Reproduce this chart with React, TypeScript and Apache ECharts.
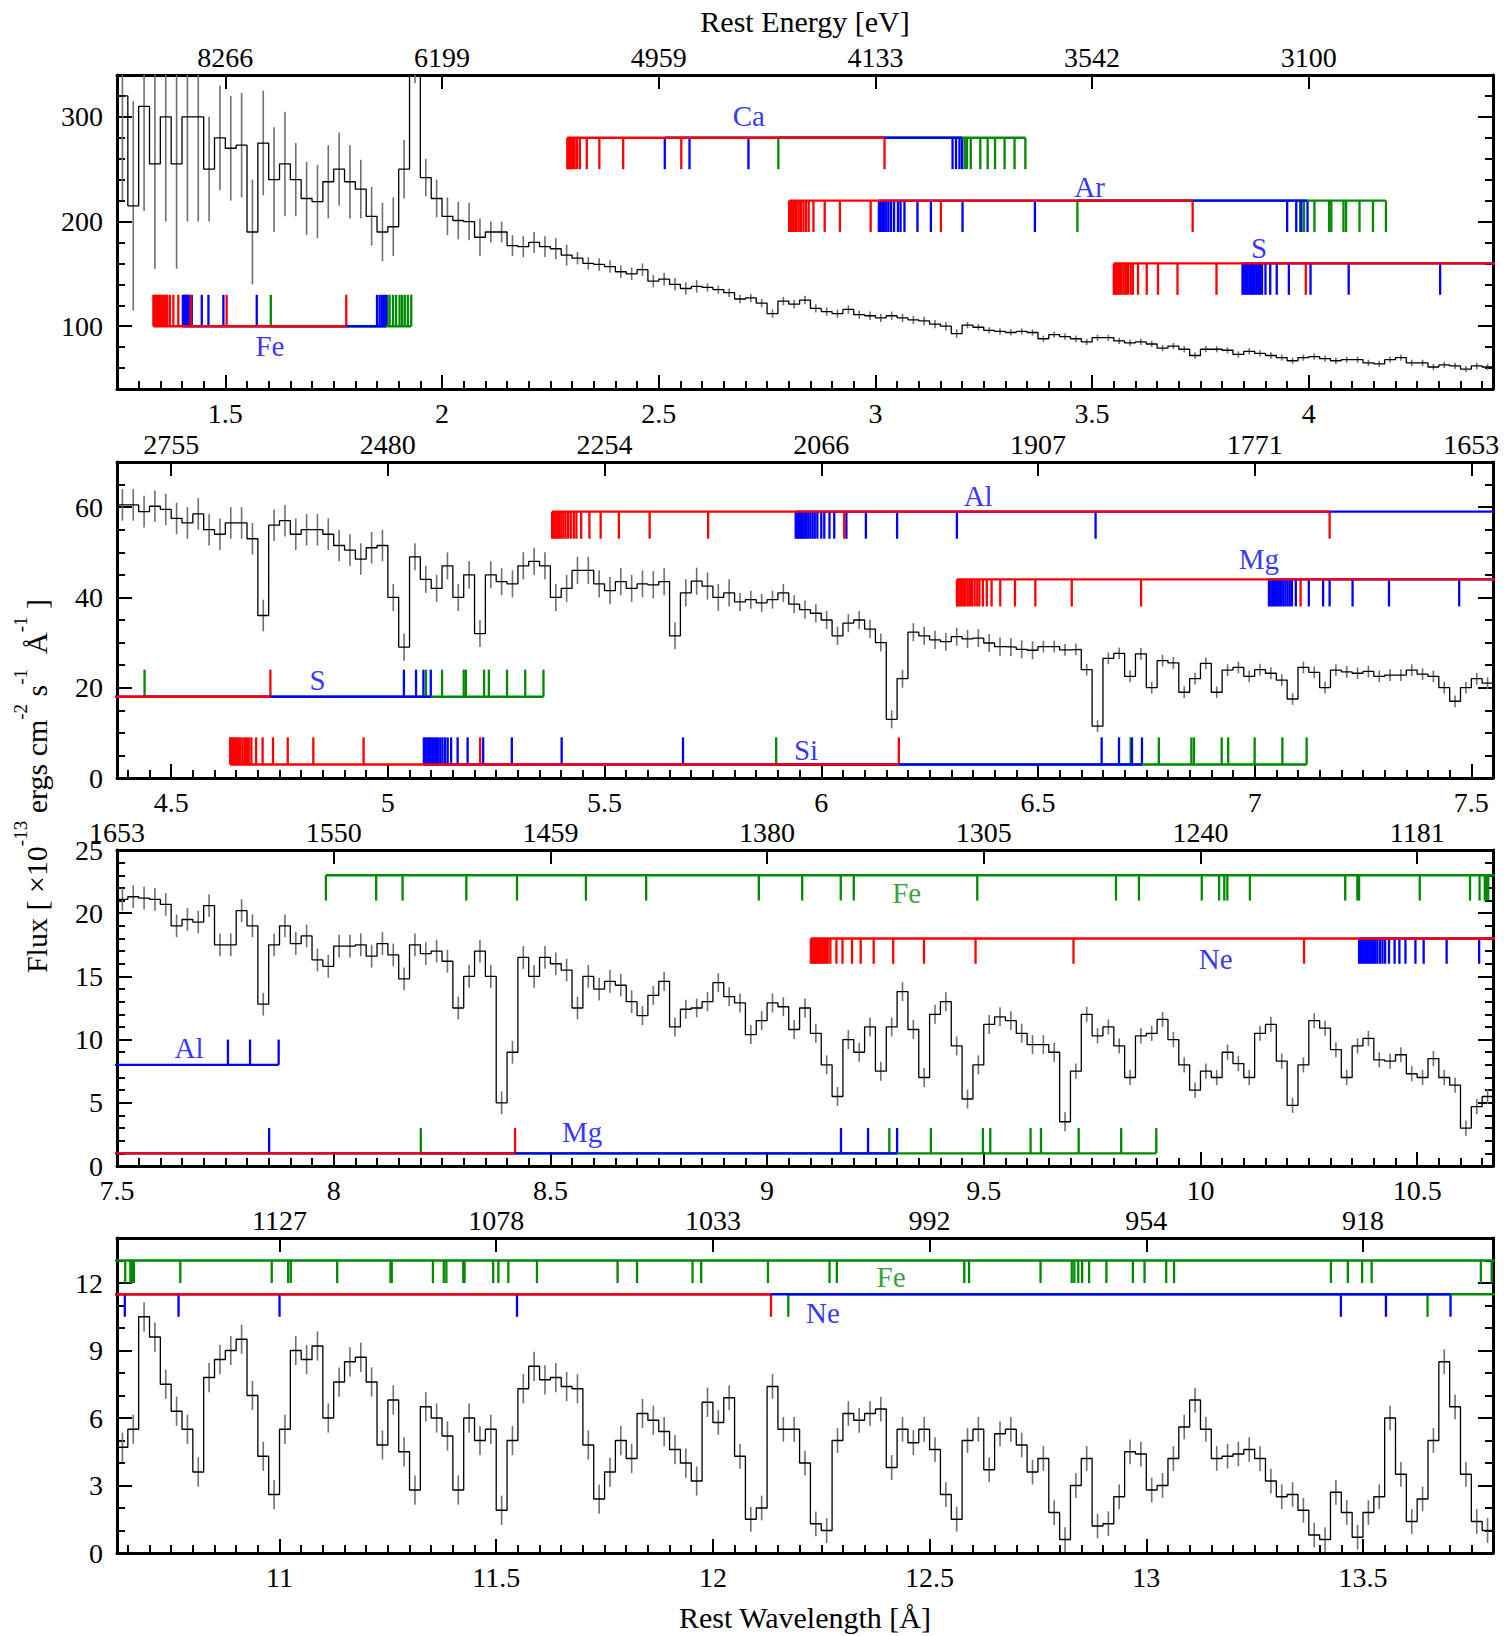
import React, { useEffect, useRef } from "react";
import * as echarts from "echarts";

const FONT = '"Liberation Serif", "Times New Roman", Times, serif';
const RED = "#ff0000";
const BLUE = "#0000ff";
const GREEN = "#008a00";

// ---------- axes ----------
const binWidth = 0.025;
const panelMin = [1.25, 4.375, 7.5, 10.625];
const panelMax = [4.425, 7.55, 10.675, 13.8];
const yMin = [40, 0, 0, 0];
const yMax = [340, 70, 25, 14];
const yMajor = [[100, 200, 300], [0, 20, 40, 60], [0, 5, 10, 15, 20, 25], [0, 3, 6, 9, 12]];
const yMinorStep = [20, 5, 1, 1];
const xMajor = [
  [1.5, 2, 2.5, 3, 3.5, 4],
  [4.5, 5, 5.5, 6, 6.5, 7, 7.5],
  [7.5, 8, 8.5, 9, 9.5, 10, 10.5],
  [11, 11.5, 12, 12.5, 13, 13.5],
];
const energyLabels = [
  ["8266", "6199", "4959", "4133", "3542", "3100"],
  ["2755", "2480", "2254", "2066", "1907", "1771", "1653"],
  ["1653", "1550", "1459", "1380", "1305", "1240", "1181"],
  ["1127", "1078", "1033", "992", "954", "918"],
];

// ---------- spectrum (flux per 0.025 Å bin, starting at panelMin) ----------
const flux1 = [
  320, 215, 310, 255, 300, 255, 300, 300, 250, 280, 270, 273, 190, 275, 240, 255, 240, 222, 219, 238,
  250, 238, 231, 205, 190, 195, 250, 360, 242, 222, 205, 201, 200, 185,
  190, 190, 177, 176, 180, 176, 174, 168, 165, 160, 159, 157, 152, 150, 154, 143, 145, 140, 136, 138,
  137, 135, 132, 126, 127,
  122, 112, 124, 121, 125, 117, 114, 112, 116, 111, 110, 108, 110, 108, 106, 105, 102, 100, 93, 101,
  99, 96, 95, 94, 95, 94, 88, 92, 90, 88, 85, 89, 89, 86, 84, 85, 83, 79, 81, 78,
  72, 78, 78, 77, 73, 76, 74, 72, 70, 67, 70, 71, 69, 67, 68, 68, 65, 64, 68, 70,
  65, 65, 61, 63, 62, 59, 62, 61,
];
const flux2 = [
  60.5, 60.5, 59, 60.2, 59.5, 57.5, 56.5, 58.5, 55, 54, 56.5, 56.5, 53, 36, 56, 57, 54, 55, 55, 54,
  51.5, 50.5, 48.5, 51, 51.5, 40, 29, 49, 44, 42, 47, 40, 45, 32, 45, 43.5, 43, 47, 48, 47,
  40, 42, 46, 46, 43, 41.5, 43.5, 42, 43, 42.8, 43.5, 31.5, 41, 43.6, 42.5, 40, 41, 39, 39.5,
  38.8, 39.5, 41, 38.5, 37.3, 36.5, 35, 31.5, 34.3, 35, 33, 30, 13, 22, 32.3, 31.5, 30.6, 30.2, 31.3, 30.8,
  31, 29.9, 29.1, 29, 28.5, 28.3, 29.1, 29.1, 28.4, 28.5, 24, 11.5, 26.5, 27.6, 22.5, 27.5, 20, 26, 25.5, 19,
  22, 25.4, 19, 23.9, 24.5, 22.5, 24, 23.2, 21.7, 17.5, 24.5, 23.4, 20, 23.9, 23.5, 23.2, 23.6, 22.5, 22.8, 22.8,
  23.9, 23, 22.5, 20, 17, 20, 22, 21,
];
const flux3 = [
  21.1, 21.3, 21.2, 21.1, 20.7, 19, 19.5, 19.3, 20.6, 17.5, 17.5, 20.2, 19, 12.8, 17.5, 19, 17.6, 18.2, 16.3, 15.8,
  17.4, 17.4, 17.5, 16.6, 17.6, 16.7, 14.8, 17.5, 16.8, 17, 16.2, 12.5, 15, 17, 15, 5, 9, 16.5, 15, 16.5,
  16, 15.5, 12.5, 15, 14, 14.6, 14.3, 13, 11.9, 13.5, 14.6, 11, 12.4, 12.5, 13, 14.5, 13.4, 12.9, 10.4,
  11.5, 12.9, 12.6, 10.8, 12.5, 10.5, 8, 5.5, 10, 9, 11, 7.5, 11, 13.8, 10.8, 7, 12, 13, 9.5, 5.3,
  8, 11.2, 11.8, 11.5, 10.5, 9.6, 9.6, 9, 3.5, 7.5, 12, 10.3, 11, 9.5, 7, 10.3, 10.5, 11.6, 10, 8,
  6, 7.5, 7, 9, 8.1, 7, 10.5, 11.2, 8.3, 4.8, 8, 11.5, 10.9, 9.2, 7, 9.5, 10.1, 8.4, 8.3, 8.8,
  7.3, 7, 8.5, 7, 6.4, 3, 4.7, 5.5,
];
const flux4 = [
  4.7, 5.5, 10.5, 9.6, 7.5, 6.3, 5.5, 3.6, 7.8, 8.6, 9, 9.5, 7, 4.3, 2.6, 5.5, 9, 8.6, 9.2, 6,
  7.6, 8.5, 8.7, 7.6, 4.8, 6.8, 4.5, 2.8, 6.5, 6, 5.2, 2.8, 6, 5, 5.5, 1.9, 5, 7.3, 8.3, 7.7,
  7.8, 7.4, 7.3, 4.8, 2.4, 3.6, 5, 4.2, 6.2, 5.9, 5.4, 4.6, 4, 3.2, 6.7, 5.8, 6.9, 4.3, 1.5,
  2, 7.4, 5.5, 5.5, 4, 1.3, 1, 5, 6.2, 5.9, 6.2, 6.4, 3.8, 5.5, 4.9, 5.5, 4.6, 2.6, 1.5, 5,
  5.5, 3.7, 5.3, 5.5, 4.8, 3.6, 4.2, 1.8, 0.6, 3, 4.2, 1.2, 1.3, 2.5, 4.5, 4.4, 2.8, 3, 4.2, 5.6,
  6.8, 5.5, 4.2, 4.3, 4.4, 4.6, 4.2, 3.2, 2.5, 2.6, 1.9, 0.8, 0.6, 2.7, 1.8, 0.7, 1.8, 2.5, 6, 3.5,
  1.4, 2.4, 5, 8.5, 6.5, 3.5, 1.4, 1,
];
// error bar half-lengths by wavelength range [from, to, err]
const err1 = [[1.25, 1.45, 100], [1.45, 1.65, 50], [1.65, 1.8, 35], [1.8, 1.95, 28], [1.95, 2.1, 18], [2.1, 2.3, 10], [2.3, 2.6, 6], [2.6, 3.2, 4], [3.2, 4.5, 3]];
const err2 = [[4.3, 5.0, 3.5], [5.0, 5.8, 3], [5.8, 6.5, 2], [6.5, 7.6, 1.3]];
const err3 = [[7.4, 8.7, 0.9], [8.7, 9.7, 0.75], [9.7, 10.7, 0.6]];
const err4 = [[10.6, 12.0, 0.65], [12.0, 13.9, 0.55]];

// ---------- line-identification ladders (wavelengths, Å) ----------
const feK_red = [1.334, 1.336, 1.338, 1.340, 1.342, 1.344, 1.347, 1.350, 1.353, 1.356, 1.360, 1.364, 1.366, 1.372, 1.380, 1.3915, 1.420, 1.503, 1.779];
const feK_blue = [1.402, 1.404, 1.406, 1.408, 1.410, 1.412, 1.414, 1.417, 1.4225, 1.4456, 1.461, 1.4955, 1.5725, 1.850, 1.856, 1.861, 1.866, 1.871];
const feK_green = [1.6049, 1.874, 1.879, 1.887, 1.894, 1.902, 1.908, 1.914, 1.921, 1.929];
const ca_red = [2.289, 2.291, 2.293, 2.295, 2.297, 2.300, 2.303, 2.306, 2.3117, 2.318, 2.334, 2.363, 2.418, 2.552, 3.021];
const ca_blue = [2.514, 2.571, 2.707, 3.178, 3.186, 3.194, 3.200];
const ca_green = [2.776, 3.206, 3.211, 3.220, 3.242, 3.259, 3.276, 3.298, 3.321, 3.346];
const ar_red = [2.801, 2.804, 2.807, 2.810, 2.814, 2.818, 2.823, 2.828, 2.834, 2.840, 2.846, 2.857, 2.883, 2.918, 2.989, 3.151, 3.732];
const ar_blue = [3.008, 3.012, 3.016, 3.020, 3.025, 3.030, 3.036, 3.043, 3.052, 3.058, 3.067, 3.097, 3.128, 3.201, 3.368, 3.950, 3.971, 3.983, 3.997];
const ar_green = [3.466, 3.980, 3.989, 4.013, 4.047, 4.052, 4.080, 4.086, 4.117, 4.148, 4.178];
const s_red = [3.550, 3.553, 3.556, 3.560, 3.564, 3.568, 3.573, 3.578, 3.583, 3.589, 3.594, 3.606, 3.626, 3.652, 3.697, 3.787, 3.993, 4.729];
const s_blue = [3.847, 3.851, 3.855, 3.859, 3.863, 3.867, 3.871, 3.875, 3.879, 3.883, 3.887, 3.892, 3.900, 3.911, 3.926, 3.954, 4.004, 4.092, 4.303, 5.037, 5.065, 5.082, 5.099];
const s_green = [4.4386, 5.088, 5.125, 5.175, 5.180, 5.222, 5.233, 5.275, 5.317, 5.359];
const si_red = [4.636, 4.639, 4.642, 4.645, 4.648, 4.652, 4.656, 4.660, 4.665, 4.670, 4.675, 4.679, 4.685, 4.696, 4.711, 4.735, 4.769, 4.828, 4.944, 5.213, 6.179];
const si_blue = [5.083, 5.087, 5.091, 5.095, 5.099, 5.103, 5.107, 5.111, 5.116, 5.121, 5.126, 5.132, 5.138, 5.146, 5.161, 5.184, 5.220, 5.286, 5.401, 5.681, 6.647, 6.687, 6.717, 6.740];
const si_green = [5.896, 6.714, 6.779, 6.854, 6.860, 6.924, 6.939, 7.000, 7.064, 7.120];
const al_red = [5.379, 5.383, 5.387, 5.391, 5.395, 5.400, 5.405, 5.410, 5.416, 5.422, 5.429, 5.435, 5.446, 5.465, 5.491, 5.533, 5.604, 5.739, 6.053, 7.173];
const al_blue = [5.941, 5.945, 5.949, 5.953, 5.957, 5.961, 5.965, 5.970, 5.975, 5.980, 5.985, 5.991, 6.000, 6.007, 6.019, 6.030, 6.058, 6.103, 6.175, 6.313, 6.633, 7.756, 7.807, 7.873];
const mg_red = [6.313, 6.317, 6.321, 6.325, 6.329, 6.333, 6.338, 6.343, 6.348, 6.354, 6.360, 6.365, 6.373, 6.382, 6.393, 6.413, 6.447, 6.494, 6.578, 6.738, 7.106, 8.4185];
const mg_blue = [7.033, 7.037, 7.041, 7.045, 7.049, 7.053, 7.057, 7.061, 7.066, 7.071, 7.076, 7.081, 7.086, 7.095, 7.125, 7.158, 7.173, 7.226, 7.310, 7.472, 7.851, 9.1705, 9.233, 9.300];
const mg_green = [8.201, 9.282, 9.378, 9.498, 9.515, 9.608, 9.632, 9.719, 9.817, 9.898];
const ne_red = [9.101, 9.104, 9.107, 9.110, 9.113, 9.116, 9.120, 9.124, 9.128, 9.132, 9.136, 9.140, 9.146, 9.160, 9.174, 9.196, 9.216, 9.246, 9.291, 9.362, 9.481, 9.707, 10.239, 12.134];
const ne_blue = [10.366, 10.370, 10.374, 10.378, 10.382, 10.386, 10.390, 10.394, 10.398, 10.403, 10.408, 10.414, 10.420, 10.426, 10.435, 10.448, 10.459, 10.473, 10.496, 10.515, 10.568, 10.643, 10.767, 11.0, 11.548, 13.449, 13.553, 13.702];
const ne_green = [12.174, 13.649, 13.9];
const feL_green = [7.982, 8.098, 8.159, 8.306, 8.423, 8.582, 8.721, 8.981, 9.081, 9.170, 9.200, 9.485, 9.805, 9.858, 10.003, 10.043, 10.055, 10.062, 10.114, 10.334, 10.362, 10.366, 10.506, 10.622, 10.644, 10.656, 10.660, 10.664, 10.771, 10.982, 11.020, 11.026, 11.133, 11.256, 11.259, 11.354, 11.379, 11.385, 11.424, 11.427, 11.493, 11.505, 11.528, 11.594, 11.780, 11.825, 11.953, 11.973, 12.127, 12.269, 12.286, 12.580, 12.591, 12.756, 12.828, 12.834, 12.843, 12.852, 12.868, 12.908, 12.969, 12.996, 13.046, 13.064, 13.426, 13.465, 13.498, 13.520, 13.772, 13.797, 13.9];

// ladder id, base level, tick tip level, per panel
const placements1 = [["feK", 100, 130], ["ca", 280, 250], ["ar", 220, 190], ["s", 160, 130]];
const placements2 = [["s", 18, 24], ["si", 3, 9], ["al", 59, 53], ["mg", 44, 38]];
const placements3 = [["al", 8, 10], ["mg", 1, 3], ["ne", 18, 16], ["feL", 23, 21]];
const placements4 = [["feL", 13, 12], ["ne", 11.5, 10.5]];

// element labels
const labelText = [["Fe", "Ca", "Ar", "S"], ["Al", "Mg", "S", "Si"], ["Fe", "Ne", "Al", "Mg"], ["Fe", "Ne"]];
const labelX = [[1.603, 2.708, 3.494, 3.885], [6.362, 7.01, 4.838, 5.965], [9.322, 10.035, 7.666, 8.573], [12.411, 12.254]];
const labelY = [[81, 301, 233, 175], [62.4, 48.6, 21.7, 6.2], [21.6, 16.4, 9.3, 2.7], [12.27, 10.65]];
const labelIsGreen = [[0, 0, 0, 0], [0, 0, 0, 0], [1, 0, 0, 0], [1, 0]];

// ---------- layout ----------
const GRID_LEFT = 117;
const GRID_WIDTH = 1376;
const GRID_TOPS = [75, 462, 850, 1238];
const GRID_HEIGHTS = [314, 316, 316, 315];

function buildOption() {
  const fluxes = [flux1, flux2, flux3, flux4];
  const errs = [err1, err2, err3, err4];
  const placements = [placements1, placements2, placements3, placements4];
  const ladderTable: any = {
    feK: [[feK_green, GREEN], [feK_blue, BLUE], [feK_red, RED]],
    ca: [[ca_green, GREEN], [ca_blue, BLUE], [ca_red, RED]],
    ar: [[ar_green, GREEN], [ar_blue, BLUE], [ar_red, RED]],
    s: [[s_green, GREEN], [s_blue, BLUE], [s_red, RED]],
    si: [[si_green, GREEN], [si_blue, BLUE], [si_red, RED]],
    al: [[al_blue, BLUE], [al_red, RED]],
    mg: [[mg_green, GREEN], [mg_blue, BLUE], [mg_red, RED]],
    ne: [[ne_green, GREEN], [ne_blue, BLUE], [ne_red, RED]],
    feL: [[feL_green, GREEN]],
  };

  const range = (a: number, b: number, step: number) => {
    const out: number[] = [];
    const n0 = Math.ceil(a / step - 1e-9);
    const n1 = Math.floor(b / step + 1e-9);
    for (let n = n0; n <= n1; n++) out.push(Math.round(n * step * 1e6) / 1e6);
    return out;
  };
  const errAt = (p: number, x: number) => {
    for (const seg of errs[p]) if (x >= seg[0] && x < seg[1]) return seg[2];
    return 0;
  };

  const grid: any[] = [];
  const xAxis: any[] = [];
  const yAxis: any[] = [];
  const series: any[] = [];
  const lineStyleAxis = { color: "#000", width: 3 };
  const tickStyle = { color: "#000", width: 2 };
  const labelStyle = { fontSize: 28, fontFamily: FONT, color: "#000" };

  for (let p = 0; p < 4; p++) {
    grid.push({ left: GRID_LEFT, top: GRID_TOPS[p], width: GRID_WIDTH, height: GRID_HEIGHTS[p], show: false });
    const xmin = panelMin[p], xmax = panelMax[p];
    const base = { type: "value", gridIndex: p, min: xmin, max: xmax, splitLine: { show: false } };
    // bottom main
    xAxis.push({
      ...base, position: "bottom",
      axisLine: { show: true, onZero: false, lineStyle: lineStyleAxis },
      axisTick: { show: true, inside: true, length: 14, customValues: xMajor[p], lineStyle: tickStyle },
      axisLabel: { show: true, customValues: xMajor[p], margin: 10, formatter: (v: number) => String(v), ...labelStyle },
    });
    // bottom minor
    xAxis.push({
      ...base, position: "bottom",
      axisLine: { show: false, onZero: false },
      axisTick: { show: true, inside: true, length: 8, customValues: range(xmin, xmax, 0.05), lineStyle: tickStyle },
      axisLabel: { show: false },
    });
    // top: rest energy
    const labs = energyLabels[p];
    const ticks = xMajor[p];
    xAxis.push({
      ...base, position: "top",
      axisLine: { show: true, onZero: false, lineStyle: lineStyleAxis },
      axisTick: { show: true, inside: true, length: 14, customValues: ticks, lineStyle: tickStyle },
      axisLabel: {
        show: true, customValues: ticks, margin: 4,
        formatter: (v: number) => {
          const k = ticks.findIndex((t) => Math.abs(t - v) < 1e-6);
          return k >= 0 ? labs[k] : "";
        },
        ...labelStyle,
      },
    });
    const ybase = { type: "value", gridIndex: p, min: yMin[p], max: yMax[p], splitLine: { show: false } };
    const yminor = range(yMin[p], yMax[p], yMinorStep[p]);
    yAxis.push({
      ...ybase, position: "left",
      axisLine: { show: true, onZero: false, lineStyle: lineStyleAxis },
      axisTick: { show: true, inside: true, length: 15, customValues: yMajor[p], lineStyle: tickStyle },
      axisLabel: { show: true, customValues: yMajor[p], margin: 14, formatter: (v: number) => String(v), ...labelStyle },
    });
    yAxis.push({
      ...ybase, position: "left",
      axisLine: { show: false, onZero: false },
      axisTick: { show: true, inside: true, length: 8, customValues: yminor, lineStyle: tickStyle },
      axisLabel: { show: false },
    });
    yAxis.push({
      ...ybase, position: "right",
      axisLine: { show: true, onZero: false, lineStyle: lineStyleAxis },
      axisTick: { show: true, inside: true, length: 15, customValues: yMajor[p], lineStyle: tickStyle },
      axisLabel: { show: false },
    });
    yAxis.push({
      ...ybase, position: "right",
      axisLine: { show: false, onZero: false },
      axisTick: { show: true, inside: true, length: 8, customValues: yminor, lineStyle: tickStyle },
      axisLabel: { show: false },
    });

    const xi = 3 * p, yi = 4 * p;
    const fl = fluxes[p];
    // error bars
    const ylo = yMin[p], yhi = yMax[p];
    series.push({
      type: "custom", xAxisIndex: xi, yAxisIndex: yi, silent: true, z: 2,
      data: fl.map((v, i) => {
        const x = xmin + (i + 0.5) * binWidth;
        return [x, v, errAt(p, x)];
      }),
      renderItem: (params: any, api: any) => {
        const x = api.value(0), y = api.value(1), e = api.value(2);
        const a = Math.max(y - e, ylo), b = Math.min(y + e, yhi);
        if (a >= b) return null;
        const p1 = api.coord([x, a]);
        const p2 = api.coord([x, b]);
        return { type: "line", shape: { x1: p1[0], y1: p1[1], x2: p2[0], y2: p2[1] }, style: { stroke: "#707070", lineWidth: 1.6 } };
      },
    });
    // step spectrum
    const stepData: number[][] = fl.map((v, i) => [xmin + i * binWidth, v]);
    stepData.push([xmin + fl.length * binWidth, fl[fl.length - 1]]);
    series.push({
      type: "line", xAxisIndex: xi, yAxisIndex: yi, data: stepData, step: "end", symbol: "none",
      silent: true, clip: true, z: 3, lineStyle: { color: "#000", width: 1.3 },
    });

    // ladders
    for (const [id, lvl, tip] of placements[p] as any[]) {
      for (const [waves, color] of ladderTable[id]) {
        const lo = Math.min(...waves), hi = Math.max(...waves);
        series.push({
          type: "line", xAxisIndex: xi, yAxisIndex: yi, data: [[lo, lvl], [hi, lvl]], symbol: "none",
          silent: true, clip: true, z: 5, lineStyle: { color, width: 2.4 },
        });
        const inRange = waves.filter((w: number) => w >= xmin && w <= xmax);
        series.push({
          type: "custom", xAxisIndex: xi, yAxisIndex: yi, silent: true, z: 5,
          data: inRange.map((w: number) => [w, lvl, tip]),
          renderItem: (params: any, api: any) => {
            const a = api.coord([api.value(0), api.value(1)]);
            const b = api.coord([api.value(0), api.value(2)]);
            return { type: "line", shape: { x1: a[0], y1: a[1], x2: b[0], y2: b[1] }, style: { stroke: color, lineWidth: 2.3 } };
          },
        });
      }
    }
    // element labels
    series.push({
      type: "scatter", xAxisIndex: xi, yAxisIndex: yi, symbolSize: 0, silent: true, z: 6,
      data: labelText[p].map((t, k) => ({
        value: [labelX[p][k], labelY[p][k]],
        label: {
          show: true, position: "inside", formatter: t,
          color: labelIsGreen[p][k] ? GREEN : BLUE, fontSize: 29, fontFamily: FONT,
        },
      })),
    });
  }

  const graphic = [
    {
      type: "text", x: 805, y: 21,
      style: { text: "Rest Energy [eV]", fill: "#000", font: `30px ${FONT}`, align: "center", verticalAlign: "middle" },
    },
    {
      type: "text", x: 805, y: 1617,
      style: { text: "Rest Wavelength [Å]", fill: "#000", font: `30px ${FONT}`, align: "center", verticalAlign: "middle" },
    },
    {
      type: "text", x: 31, y: 786, rotation: Math.PI / 2,
      style: {
        text: "{a|Flux [ ×10}{s|-13}{a| ergs cm}{s|-2}{a| s}{s|-1}{a|  Å}{s|-1}{a| ]}",
        fill: "#000", align: "center", verticalAlign: "middle",
        rich: {
          a: { fontSize: 30, fontFamily: FONT, fill: "#000", lineHeight: 40, verticalAlign: "bottom" },
          s: { fontSize: 19, fontFamily: FONT, fill: "#000", lineHeight: 18, verticalAlign: "top" },
        },
      },
    },
  ];

  return {
    animation: false,
    backgroundColor: "#ffffff",
    textStyle: { fontFamily: FONT },
    grid, xAxis, yAxis, series, graphic,
  };
}

export default function App() {
  const ref = useRef<HTMLDivElement>(null);
  useEffect(() => {
    const chart = echarts.init(ref.current as HTMLDivElement, null, { renderer: "svg" });
    chart.setOption(buildOption() as any);
    return () => chart.dispose();
  }, []);
  return (
    <div
      ref={ref}
      style={{ position: "absolute", left: 0, top: 0, width: 1509, height: 1636, background: "#fff" }}
    />
  );
}
